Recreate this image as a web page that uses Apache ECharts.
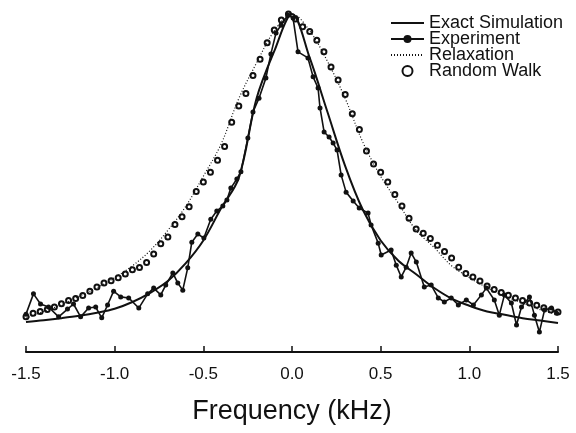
<!DOCTYPE html>
<html>
<head>
<meta charset="utf-8">
<script src="https://cdn.jsdelivr.net/npm/echarts@6/dist/echarts.min.js"></script>
<style>
  html, body { margin: 0; padding: 0; background: #fff; }
  #main { width: 576px; height: 433px; }
</style>
</head>
<body>
<div id="main"></div>
<script>
// frequency ticks (kHz)
var freqTicks = [-1.5, -1.0, -0.5, 0.0, 0.5, 1.0, 1.5];

// Exact simulation (normalised intensity), 0.1 kHz steps
var simFreq = [-1.5, -1.4, -1.3, -1.2, -1.1, -1.0, -0.9, -0.8, -0.7, -0.6, -0.5, -0.4, -0.3, -0.2, -0.1, 0.0,
               0.1, 0.2, 0.3, 0.4, 0.5, 0.6, 0.7, 0.8, 0.9, 1.0, 1.1, 1.2, 1.3, 1.4, 1.5];
var simInt  = [0.089, 0.094, 0.100, 0.107, 0.116, 0.128, 0.148, 0.175, 0.210, 0.262, 0.330, 0.425, 0.515, 0.750, 0.890, 1.000,
               0.870, 0.710, 0.550, 0.420, 0.330, 0.270, 0.230, 0.190, 0.158, 0.137, 0.120, 0.110, 0.100, 0.093, 0.086];

// Experiment
var expFreq = [-1.50, -1.458, -1.418, -1.373, -1.316, -1.266, -1.232, -1.192, -1.147, -1.107, -1.073, -1.040, -1.006,
               -0.966, -0.921, -0.864, -0.814, -0.780, -0.740, -0.712, -0.672, -0.644, -0.616, -0.588, -0.565, -0.531,
               -0.497, -0.458, -0.424, -0.390, -0.367, -0.345, -0.311, -0.288, -0.249, -0.220, -0.186, -0.147, -0.119,
               -0.090, -0.062, -0.023, 0.006, 0.034, 0.090, 0.119, 0.147, 0.158, 0.181, 0.209, 0.232, 0.254, 0.277,
               0.305, 0.345, 0.379, 0.429, 0.446, 0.486, 0.503, 0.559, 0.588, 0.616, 0.644, 0.672, 0.701, 0.746,
               0.785, 0.825, 0.859, 0.898, 0.938, 0.983, 1.023, 1.068, 1.096, 1.141, 1.169, 1.198, 1.237, 1.266,
               1.294, 1.339, 1.367, 1.395, 1.424, 1.463, 1.492];
var expInt  = [0.112, 0.172, 0.142, 0.133, 0.104, 0.127, 0.142, 0.104, 0.130, 0.133, 0.101, 0.139, 0.180,
               0.163, 0.160, 0.130, 0.172, 0.189, 0.169, 0.198, 0.234, 0.204, 0.183, 0.249, 0.325, 0.349,
               0.337, 0.393, 0.417, 0.432, 0.450, 0.485, 0.512, 0.533, 0.633, 0.710, 0.751, 0.811, 0.882,
               0.944, 0.967, 0.997, 0.988, 0.888, 0.870, 0.814, 0.781, 0.722, 0.651, 0.636, 0.618, 0.598, 0.524,
               0.473, 0.447, 0.426, 0.411, 0.376, 0.322, 0.287, 0.302, 0.257, 0.222, 0.251, 0.293, 0.266, 0.192,
               0.198, 0.160, 0.148, 0.160, 0.139, 0.154, 0.139, 0.169, 0.189, 0.154, 0.109, 0.169, 0.145, 0.080,
               0.133, 0.163, 0.109, 0.059, 0.124, 0.130, 0.115];

// Relaxation model, 0.1 kHz steps
var relFreq = simFreq;
var relInt  = [0.100, 0.120, 0.140, 0.165, 0.190, 0.220, 0.255, 0.300, 0.360, 0.430, 0.520, 0.615, 0.750, 0.855, 0.950, 1.000,
               0.950, 0.860, 0.750, 0.620, 0.520, 0.440, 0.360, 0.310, 0.255, 0.220, 0.190, 0.165, 0.145, 0.125, 0.110];

// Random walk model, 0.04 kHz steps
var rwFreq = [-1.50, -1.46, -1.42, -1.38, -1.34, -1.30, -1.26, -1.22, -1.18, -1.14, -1.10, -1.06, -1.02, -0.98, -0.94,
              -0.90, -0.86, -0.82, -0.78, -0.74, -0.70, -0.66, -0.62, -0.58, -0.54, -0.50, -0.46, -0.42, -0.38,
              -0.34, -0.30, -0.26, -0.22, -0.18, -0.14, -0.10, -0.06, -0.02, 0.02, 0.06, 0.10, 0.14, 0.18, 0.22,
              0.26, 0.30, 0.34, 0.38, 0.42, 0.46, 0.50, 0.54, 0.58, 0.62, 0.66, 0.70, 0.74, 0.78, 0.82, 0.86,
              0.90, 0.94, 0.98, 1.02, 1.06, 1.10, 1.14, 1.18, 1.22, 1.26, 1.30, 1.34, 1.38, 1.42, 1.46, 1.50];
var rwInt  = [0.104, 0.115, 0.120, 0.126, 0.133, 0.143, 0.152, 0.158, 0.167, 0.180, 0.192, 0.204, 0.211, 0.220, 0.231,
              0.243, 0.250, 0.265, 0.290, 0.320, 0.340, 0.377, 0.400, 0.430, 0.475, 0.503, 0.532, 0.567, 0.608,
              0.680, 0.728, 0.765, 0.818, 0.866, 0.915, 0.953, 0.982, 1.000, 0.985, 0.962, 0.948, 0.922, 0.888, 0.843,
              0.805, 0.762, 0.705, 0.658, 0.595, 0.556, 0.532, 0.503, 0.466, 0.432, 0.396, 0.364, 0.351, 0.336, 0.316, 0.297,
              0.278, 0.251, 0.232, 0.222, 0.210, 0.195, 0.185, 0.176, 0.168, 0.160, 0.152, 0.145, 0.138, 0.131, 0.124, 0.118];

function pairs(xs, ys) {
    return xs.map(function (x, i) { return [x, ys[i]]; });
}

var fontFam = 'Liberation Sans, Arial, sans-serif';

var chart = echarts.init(document.getElementById('main'));
chart.setOption({
    animation: false,
    backgroundColor: '#fff',
    textStyle: { fontFamily: fontFam, color: '#111' },
    grid: { left: 26, right: 18, top: 14, bottom: 81 },
    legend: {
        orient: 'vertical',
        left: 385,
        top: 9,
        itemWidth: 33,
        itemHeight: 10,
        itemGap: -2,
        textStyle: { fontSize: 18, color: '#111', fontFamily: fontFam },
        data: [
            { name: 'Exact Simulation', itemStyle: { opacity: 0 } },
            { name: 'Experiment' },
            { name: 'Relaxation', itemStyle: { opacity: 0 } },
            { name: 'Random Walk' }
        ]
    },
    xAxis: {
        type: 'value',
        min: freqTicks[0],
        max: freqTicks[freqTicks.length - 1],
        interval: 0.5,
        name: 'Frequency (kHz)',
        nameLocation: 'middle',
        nameGap: 46,
        nameTextStyle: { fontSize: 27, color: '#111' },
        axisLine: { lineStyle: { color: '#111', width: 2 } },
        axisTick: { inside: true, length: 6, lineStyle: { color: '#111', width: 1.5 } },
        axisLabel: {
            margin: 14,
            fontSize: 17,
            color: '#111',
            formatter: function (v) { return v.toFixed(1); }
        },
        splitLine: { show: false }
    },
    yAxis: {
        type: 'value',
        min: 0,
        max: 1,
        show: false
    },
    series: [
        {
            name: 'Exact Simulation',
            type: 'line',
            data: pairs(simFreq, simInt),
            smooth: 0.35,
            showSymbol: false,
            symbol: 'none',
            clip: false,
            lineStyle: { color: '#111', width: 2 },
            itemStyle: { color: '#111' }
        },
        {
            name: 'Experiment',
            type: 'line',
            data: pairs(expFreq, expInt),
            symbol: 'circle',
            symbolSize: 5,
            clip: false,
            lineStyle: { color: '#111', width: 1.6 },
            itemStyle: { color: '#111' }
        },
        {
            name: 'Relaxation',
            type: 'line',
            data: pairs(relFreq, relInt),
            smooth: 0.35,
            symbol: 'none',
            clip: false,
            lineStyle: { color: '#111', width: 1.2, type: [1, 2] },
            itemStyle: { color: '#111' }
        },
        {
            name: 'Random Walk',
            type: 'scatter',
            data: pairs(rwFreq, rwInt),
            symbol: 'emptyCircle',
            symbolSize: 5,
            clip: false,
            itemStyle: { color: '#111', borderWidth: 1.5, opacity: 1 }
        }
    ]
});
</script>
</body>
</html>
